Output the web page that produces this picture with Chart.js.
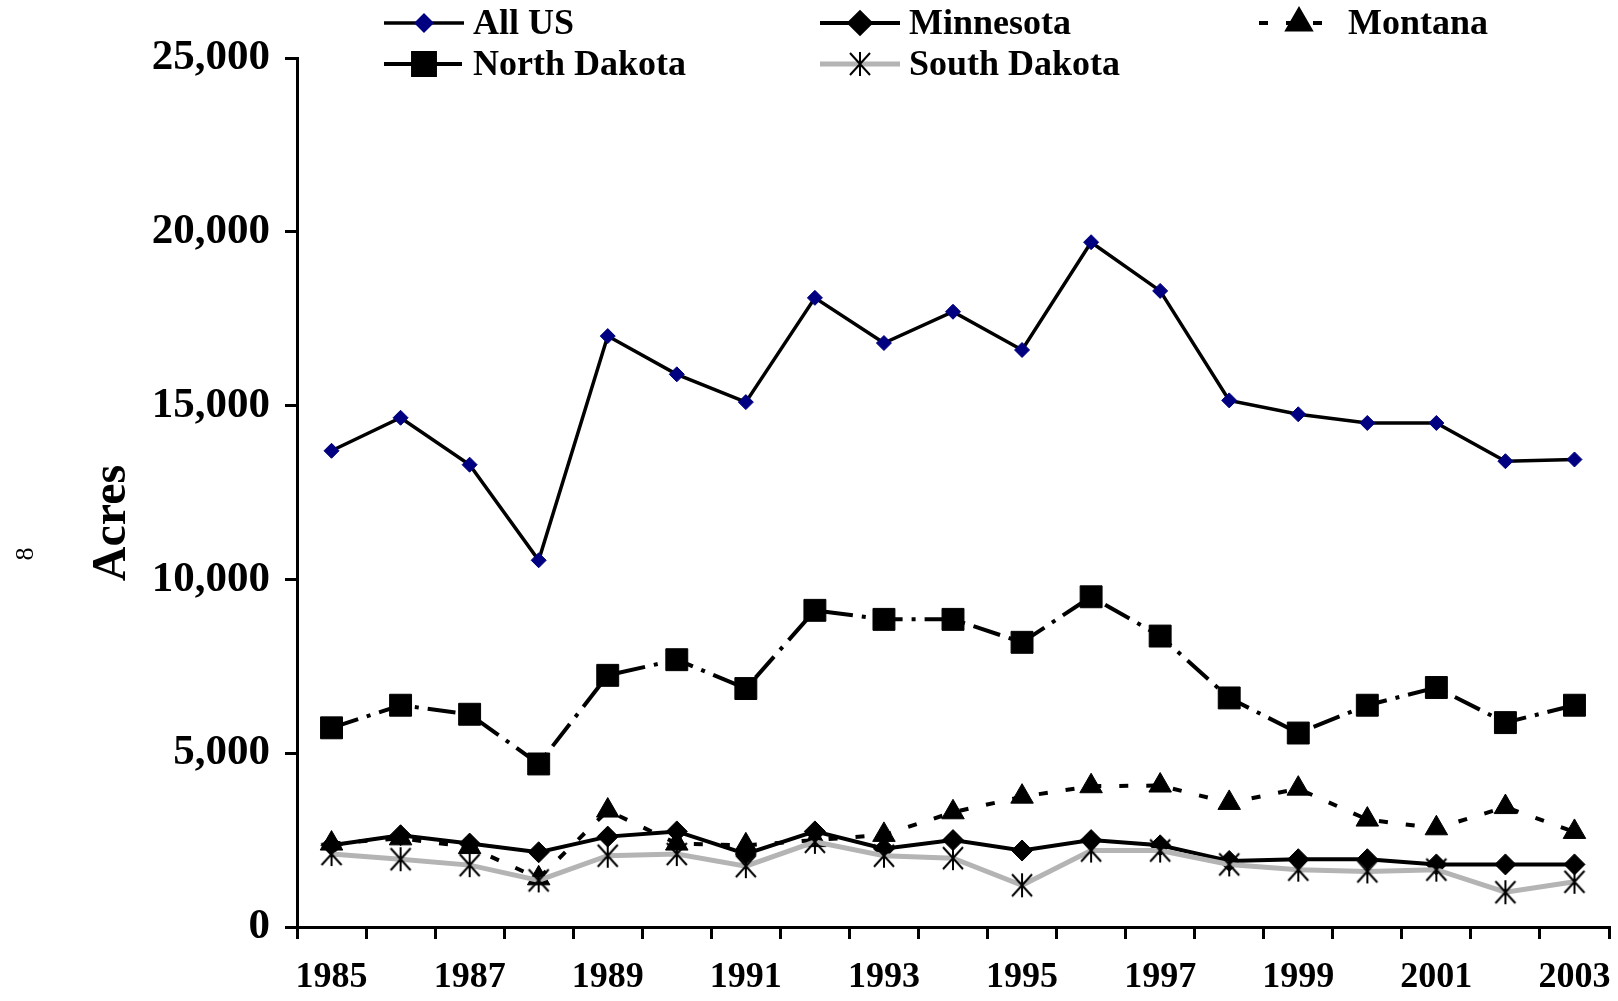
<!DOCTYPE html>
<html><head><meta charset="utf-8">
<script src="https://cdn.jsdelivr.net/npm/chart.js@4.4.1/dist/chart.umd.min.js"></script>
<style>html,body{margin:0;padding:0;background:#fff;}#wrap{width:1618px;height:1001px;}</style>
</head><body><div id="wrap"><canvas id="c" width="1618" height="1001"></canvas></div>
<script>
const years = ['1985','1986','1987','1988','1989','1990','1991','1992','1993','1994','1995','1996','1997','1998','1999','2000','2001','2002','2003'];
const xTickLabels = ['1985','1987','1989','1991','1993','1995','1997','1999','2001','2003'];
const yTickValues = [0,5000,10000,15000,20000,25000];
const seriesNames = ['All US','Minnesota','Montana','North Dakota','South Dakota'];
const allUS = [13700,14650,13300,10550,17000,15900,15100,18100,16800,17700,16600,19700,18300,15150,14750,14500,14500,13400,13450];
const minnesota = [2350,2640,2400,2150,2600,2750,2100,2750,2250,2500,2200,2500,2350,1900,1950,1950,1800,1800,1800];
const montana = [2400,2550,2300,1400,3350,2400,2350,2500,2650,3300,3750,4050,4070,3570,3980,3090,2840,3450,2735];
const northDakota = [5730,6380,6120,4690,7240,7690,6860,9110,8850,8850,8190,9500,8370,6590,5580,6380,6890,5880,6380];
const southDakota = [2100,1950,1780,1340,2050,2100,1750,2450,2050,1980,1200,2200,2200,1800,1650,1600,1650,1000,1300];

// six-armed asterisk marker
const star = document.createElement('canvas');
star.width = 26; star.height = 26;
(function(){
  const g = star.getContext('2d');
  g.strokeStyle = '#000'; g.lineWidth = 2;
  g.beginPath();
  g.moveTo(13,1); g.lineTo(13,25);
  g.moveTo(3,2); g.lineTo(23,24);
  g.moveTo(23,2); g.lineTo(3,24);
  g.stroke();
})();

const datasets = [
  {label: seriesNames[0], data: allUS, borderColor:'#000', borderWidth:3.5, pointStyle:'rectRot', pointRadius:7.5, pointBackgroundColor:'#000080', pointBorderColor:'#000080', pointBorderWidth:1, order:5},
  {label: seriesNames[1], data: minnesota, borderColor:'#000', borderWidth:4, pointStyle:'rectRot', pointRadius:10.5, pointBackgroundColor:'#000', pointBorderColor:'#000', pointBorderWidth:1, order:4},
  {label: seriesNames[2], data: montana, borderColor:'#000', borderWidth:4, borderDash:[9,18], pointStyle:'triangle', pointRadius:13, pointBackgroundColor:'#000', pointBorderColor:'#000', pointBorderWidth:1, order:3},
  {label: seriesNames[3], data: northDakota, borderColor:'#000', borderWidth:4, borderDash:[28,9,4,9], pointStyle:'rect', pointRadius:15.5, pointBackgroundColor:'#000', pointBorderColor:'#000', pointBorderWidth:1, order:2},
  {label: seriesNames[4], data: southDakota, borderColor:'#b4b4b4', borderWidth:5, pointStyle:star, pointRadius:12, pointBackgroundColor:'#000', pointBorderColor:'#000', pointBorderWidth:0, order:1}
];
datasets.forEach(d => { d.fill = false; d.tension = 0; d.borderCapStyle = 'butt'; d.borderJoinStyle = 'miter'; d.clip = false; });

const legendPos = [
  {i:0, x:384, y:23},
  {i:1, x:820, y:23},
  {i:2, x:1259, y:23},
  {i:3, x:384, y:64},
  {i:4, x:820, y:64}
];

const decor = {
  id:'decor',
  afterDraw(chart){
    const ctx = chart.ctx;
    ctx.save();
    legendPos.forEach(p => {
      const d = chart.data.datasets[p.i];
      ctx.save();
      ctx.strokeStyle = d.borderColor; ctx.lineWidth = d.borderWidth;
      ctx.setLineDash(d.borderDash || []);
      ctx.beginPath(); ctx.moveTo(p.x, p.y); ctx.lineTo(p.x+80, p.y); ctx.stroke();
      ctx.setLineDash([]);
      ctx.fillStyle = d.pointBackgroundColor; ctx.strokeStyle = d.pointBorderColor;
      Chart.helpers.drawPoint(ctx, {pointStyle:d.pointStyle, rotation:0, radius:d.pointRadius, borderWidth:d.pointBorderWidth}, p.x+40, p.y);
      ctx.restore();
      ctx.fillStyle = '#000';
      ctx.font = 'bold 36px "Liberation Serif"';
      ctx.textAlign = 'left'; ctx.textBaseline = 'middle';
      ctx.fillText(d.label, p.x+89, p.y+2);
    });
    // axis title
    ctx.save();
    ctx.translate(113, 523); ctx.rotate(-Math.PI/2);
    ctx.font = 'bold 48px "Liberation Serif"'; ctx.fillStyle = '#000';
    ctx.textAlign = 'center'; ctx.textBaseline = 'middle';
    ctx.fillText('Acres', 0, 0);
    ctx.restore();
    // page number
    ctx.save();
    ctx.translate(26, 554); ctx.rotate(-Math.PI/2);
    ctx.font = '26px "Liberation Serif"'; ctx.fillStyle = '#000';
    ctx.textAlign = 'center'; ctx.textBaseline = 'middle';
    ctx.fillText('8', 0, 0);
    ctx.restore();
    ctx.restore();
  }
};

new Chart(document.getElementById('c'), {
  type:'line',
  data:{labels: years, datasets},
  options:{
    responsive:false, animation:false, devicePixelRatio:1,
    layout:{autoPadding:false, padding:{top:58, right:9, left:0, bottom:0}},
    plugins:{legend:{display:false}, tooltip:{enabled:false}},
    scales:{
      x:{
        offset:true,
        grid:{offset:true, drawOnChartArea:false, drawTicks:true, tickLength:12, tickWidth:3, tickColor:'#000', color:'#000', lineWidth:3},
        border:{display:true, color:'#000', width:3},
        ticks:{autoSkip:false, maxRotation:0, minRotation:0, padding:17, color:'#000',
          font:{family:'"Liberation Serif"', size:36, weight:'bold'},
          callback(v){ const l = this.getLabelForValue(v); return xTickLabels.includes(l) ? l : ''; }},
        afterFit(s){ s.height = 74; s.paddingLeft = 0; s.paddingRight = 0; }
      },
      y:{
        min:0, max:25000,
        grid:{drawOnChartArea:false, drawTicks:true, tickLength:12, tickWidth:3, tickColor:'#000', color:'#000', lineWidth:3},
        border:{display:true, color:'#000', width:3},
        ticks:{stepSize:5000, padding:15, color:'#000',
          font:{family:'"Liberation Serif"', size:43, weight:'bold'},
          callback(v){ return yTickValues.includes(v) ? v.toLocaleString('en-US') : ''; }},
        afterFit(s){ s.width = 297; s.paddingTop = 0; s.paddingBottom = 0; s.paddingLeft = 0; s.paddingRight = 0; }
      }
    }
  },
  plugins:[decor]
});
</script></body></html>
